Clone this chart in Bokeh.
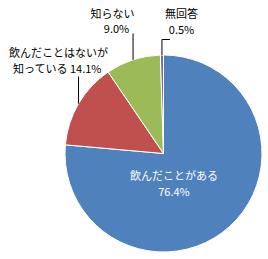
import math
from bokeh.plotting import figure
from bokeh.models import Range1d
from bokeh.embed import file_html
from bokeh.resources import INLINE
from bokeh.core.properties import value

# ---- data ----
categories = ["飲んだことがある", "飲んだことはないが知っている", "知らない", "無回答"]
shares = [76.4, 14.1, 9.0, 0.5]
pct_labels = ["76.4%", "14.1%", "9.0%", "0.5%"]
colors = ["#4F81BD", "#C0504D", "#9BBB59", "#8064A2"]

# ---- layout (pixel coordinates, y downward) ----
W, H = 268, 259
CX, CY, R = 163, 153, 98.5
FONT = "Noto Sans CJK JP"


def fy(py):
    return H - py


p = figure(width=W, height=H, x_range=Range1d(0, W), y_range=Range1d(0, H),
           output_backend="svg", toolbar_location=None, min_border=0,
           x_axis_type=None, y_axis_type=None)
p.grid.visible = False
p.outline_line_color = None
p.background_fill_color = "white"
p.border_fill_color = "white"

total = sum(shares)
starts, ends, mids = [], [], []
c = 0.0
for s in shares:
    c0 = c / total
    c += s
    c1 = c / total
    starts.append(math.pi / 2 - 2 * math.pi * c0)
    ends.append(math.pi / 2 - 2 * math.pi * c1)
    mids.append(math.pi / 2 - 2 * math.pi * (c0 + c1) / 2)

p.wedge(x=[CX] * len(shares), y=[fy(CY)] * len(shares), radius=R,
        start_angle=starts, end_angle=ends, direction="clock",
        fill_color=colors, line_color="white", line_width=1)

# leader lines from slice edge (mid angle) up to label
edge = [(CX + R * math.cos(a), fy(CY) + R * math.sin(a)) for a in mids]
leader_top = {1: 76, 2: 33, 3: 39}
for i, top in leader_top.items():
    ex, ey = edge[i]
    xs = [ex, ex]
    ys = [ey, fy(top)]
    if i == 3:
        xs = [ex, ex, ex + 8]
        ys = [ey, fy(top), fy(top)]
    p.line(xs, ys, line_color="black", line_width=1)

# labels (lines of text with positions)
lab_x, lab_y, lab_t, lab_c = [], [], [], []


def add(x, y, t, col):
    lab_x.append(x)
    lab_y.append(fy(y))
    lab_t.append(t)
    lab_c.append(col)


add(173.5, 174.5, categories[0], "white")
add(173.5, 190.5, pct_labels[0], "white")
add(58, 51.5, categories[1][:9], "black")
add(57, 67, categories[1][9:] + " " + pct_labels[1], "black")
add(112, 12, categories[2], "black")
add(116, 27.5, pct_labels[2], "black")
add(181, 12, categories[3], "black")
add(181, 28, pct_labels[3], "black")

p.text(x=lab_x, y=lab_y, text=lab_t, text_color=lab_c,
       text_font=value(FONT), text_font_size="11px",
       text_align="center", text_baseline="middle")

open("out.html", "w").write(file_html(p, INLINE))
